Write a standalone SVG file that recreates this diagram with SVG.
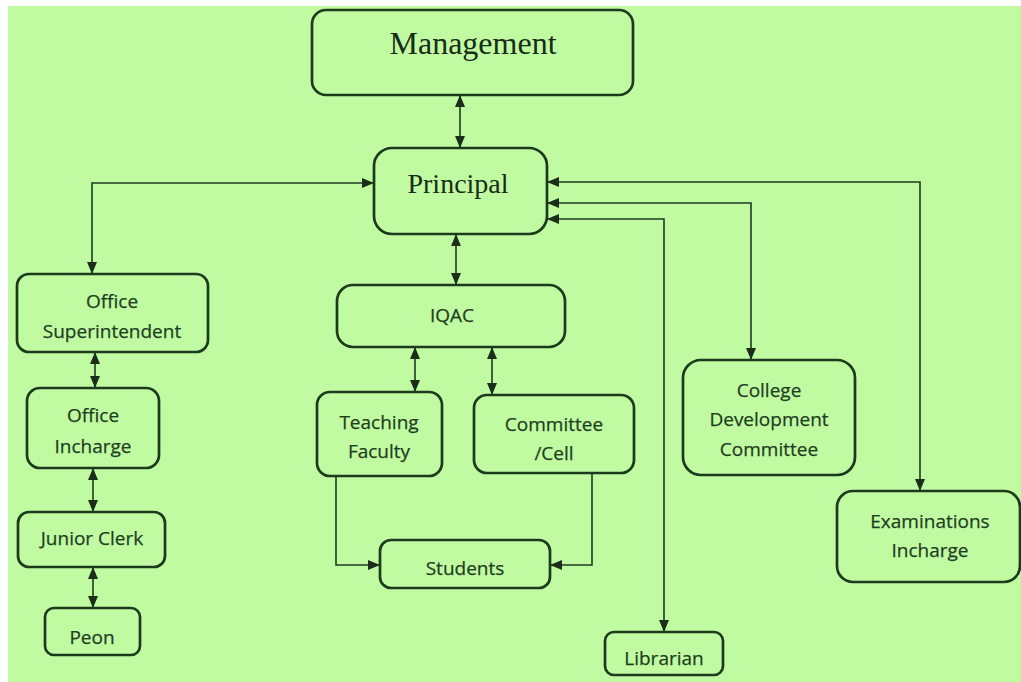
<svg xmlns="http://www.w3.org/2000/svg" width="1021" height="682" viewBox="0 0 1021 682">
<style>
.box{fill:none;stroke:#1c3a1c;stroke-width:2.7}
.t{font-family:"Open Sans","Liberation Sans",sans-serif;font-size:19px;fill:#1f3d1f;text-anchor:middle;stroke:#1f3d1f;stroke-width:0.25}
.s{font-family:"Liberation Serif","DejaVu Serif",serif;fill:#182c18;text-anchor:middle}
.c{fill:none;stroke:#1f3a1f;stroke-width:1.6}
.b{marker-start:url(#ah);marker-end:url(#ah)}
.e{marker-end:url(#ah)}
</style>
<defs>
<marker id="ah" viewBox="0 0 12 10" refX="12" refY="5" markerWidth="12" markerHeight="10" markerUnits="userSpaceOnUse" orient="auto-start-reverse">
<path d="M0 0L12 5L0 10Z" fill="#1a2e1a"/>
</marker>
</defs>
<rect width="1021" height="682" fill="#ffffff"/>
<rect x="8" y="6" width="1013" height="676" fill="#c0fba2"/>
<g id="connectors">
<path class="c b" d="M460 95V148"/>
<path class="c b" d="M374 183H92V274"/>
<path class="c b" d="M456 234V285"/>
<path class="c b" d="M415 347V392"/>
<path class="c b" d="M492 347V395"/>
<path class="c e" d="M336 476V565H380"/>
<path class="c e" d="M592 473V565H550"/>
<path class="c b" d="M547 182H920V491"/>
<path class="c b" d="M547 203H751V360"/>
<path class="c b" d="M547 219H664V632"/>
<path class="c b" d="M95 352V388"/>
<path class="c b" d="M93 468V512"/>
<path class="c b" d="M93 567V608"/>
</g>
<g id="management">
<rect class="box" x="312" y="10" width="321" height="85" rx="14"/>
<text class="s" x="473" y="54" font-size="32">Management</text>
</g>
<g id="principal">
<rect class="box" x="374" y="148" width="173" height="86" rx="18"/>
<text class="s" x="458" y="193" font-size="28">Principal</text>
</g>
<g id="iqac">
<rect class="box" x="337" y="285" width="228" height="62" rx="16"/>
<text class="t" x="452" y="322">IQAC</text>
</g>
<g id="office-superintendent">
<rect class="box" x="17" y="274" width="191" height="78" rx="12"/>
<text class="t" x="112" y="308">Office</text>
<text class="t" x="112" y="338">Superintendent</text>
</g>
<g id="office-incharge">
<rect class="box" x="27" y="388" width="132" height="80" rx="13"/>
<text class="t" x="93" y="422">Office</text>
<text class="t" x="93" y="453">Incharge</text>
</g>
<g id="junior-clerk">
<rect class="box" x="18" y="512" width="147" height="55" rx="11"/>
<text class="t" x="92" y="545">Junior Clerk</text>
</g>
<g id="peon">
<rect class="box" x="45" y="608" width="95" height="47" rx="9"/>
<text class="t" x="92" y="644">Peon</text>
</g>
<g id="teaching-faculty">
<rect class="box" x="317" y="392" width="125" height="84" rx="13"/>
<text class="t" x="379" y="429">Teaching</text>
<text class="t" x="379" y="458">Faculty</text>
</g>
<g id="committee-cell">
<rect class="box" x="474" y="395" width="160" height="78" rx="13"/>
<text class="t" x="554" y="431">Committee</text>
<text class="t" x="554" y="460">/Cell</text>
</g>
<g id="students">
<rect class="box" x="380" y="540" width="170" height="48" rx="11"/>
<text class="t" x="465" y="575">Students</text>
</g>
<g id="college-development-committee">
<rect class="box" x="683" y="360" width="172" height="115" rx="18"/>
<text class="t" x="769" y="397">College</text>
<text class="t" x="769" y="426">Development</text>
<text class="t" x="769" y="456">Committee</text>
</g>
<g id="examinations-incharge">
<rect class="box" x="837" y="491" width="183" height="91" rx="16"/>
<text class="t" x="930" y="528">Examinations</text>
<text class="t" x="930" y="557">Incharge</text>
</g>
<g id="librarian">
<rect class="box" x="605" y="632" width="118" height="43" rx="9"/>
<text class="t" x="664" y="665">Librarian</text>
</g>
</svg>
